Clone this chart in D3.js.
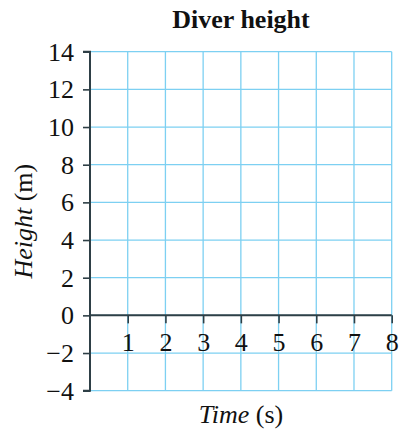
<!DOCTYPE html>
<html><head><meta charset="utf-8">
<script src="https://cdn.jsdelivr.net/npm/d3@7"></script>
<style>body{margin:0;background:#fff}svg{display:block}</style>
</head><body>
<script>
const title = "Diver height";
const xTicks = [1, 2, 3, 4, 5, 6, 7, 8];
const yTicks = [-4, -2, 0, 2, 4, 6, 8, 10, 12, 14];
const xDomain = [0, 8];
const yDomain = [-4, 14];

const W = 402, H = 429;
const m = {left: 90, right: 10.3, top: 51.7, bottom: 38.3};
const FS = 26;
const svg = d3.select("body").append("svg").attr("width", W).attr("height", H);
const x = d3.scaleLinear().domain(xDomain).range([m.left, W - m.right]);
const y = d3.scaleLinear().domain(yDomain).range([H - m.bottom, m.top]);
const font = "'Liberation Serif', 'Times New Roman', serif";
const grid = "#7dd0f2", axisC = "#2e3f46";

// grid
svg.append("g").selectAll("line.v").data(xTicks).join("line")
  .attr("x1", d => x(d)).attr("x2", d => x(d))
  .attr("y1", y(yDomain[0])).attr("y2", y(yDomain[1]))
  .attr("stroke", grid).attr("stroke-width", 1.3);
svg.append("g").selectAll("line.h").data(yTicks).join("line")
  .attr("x1", x(0)).attr("x2", x(xDomain[1]))
  .attr("y1", d => y(d)).attr("y2", d => y(d))
  .attr("stroke", grid).attr("stroke-width", 1.3);

// y axis
const yAxis = svg.append("g").attr("transform", `translate(${x(0)},0)`)
  .call(d3.axisLeft(y).tickValues(yTicks).tickSize(7).tickPadding(9)
    .tickFormat(d => d < 0 ? "\u2212" + Math.abs(d) : d));
yAxis.attr("font-family", font).attr("font-size", FS);
yAxis.select(".domain").attr("stroke", axisC).attr("stroke-width", 2).attr("d", `M-7,${y(yDomain[1])}H0V${y(yDomain[0])}H-7`);
yAxis.selectAll(".tick line").attr("stroke", axisC).attr("stroke-width", 1.6);
yAxis.selectAll(".tick text").attr("fill", "#111");

// x axis at y=0
const xAxis = svg.append("g").attr("transform", `translate(0,${y(0)})`)
  .call(d3.axisBottom(x).tickValues(xTicks).tickSize(8).tickPadding(9));
xAxis.attr("font-family", font).attr("font-size", FS);
xAxis.select(".domain").attr("stroke", axisC).attr("stroke-width", 2).attr("d", `M${x(0)},0H${x(xDomain[1])}`);
xAxis.selectAll(".tick line").attr("stroke", axisC).attr("stroke-width", 1.6);
xAxis.selectAll(".tick text").attr("fill", "#111");

// title
svg.append("text").attr("x", 241).attr("y", 28).attr("text-anchor", "middle")
  .attr("font-family", font).attr("font-weight", "bold").attr("font-size", FS).attr("fill", "#111")
  .text(title);

// x label
const xl = svg.append("text").attr("x", 241).attr("y", 423).attr("text-anchor", "middle")
  .attr("font-family", font).attr("font-size", FS).attr("fill", "#111");
xl.append("tspan").attr("font-style", "italic").text("Time");
xl.append("tspan").text(" (s)");

// y label
const yl = svg.append("text").attr("transform", `translate(32,${(y(yDomain[0]) + y(yDomain[1])) / 2}) rotate(-90)`)
  .attr("text-anchor", "middle").attr("font-family", font).attr("font-size", FS).attr("fill", "#111");
yl.append("tspan").attr("font-style", "italic").text("Height");
yl.append("tspan").text(" (m)");
</script>
</body></html>
